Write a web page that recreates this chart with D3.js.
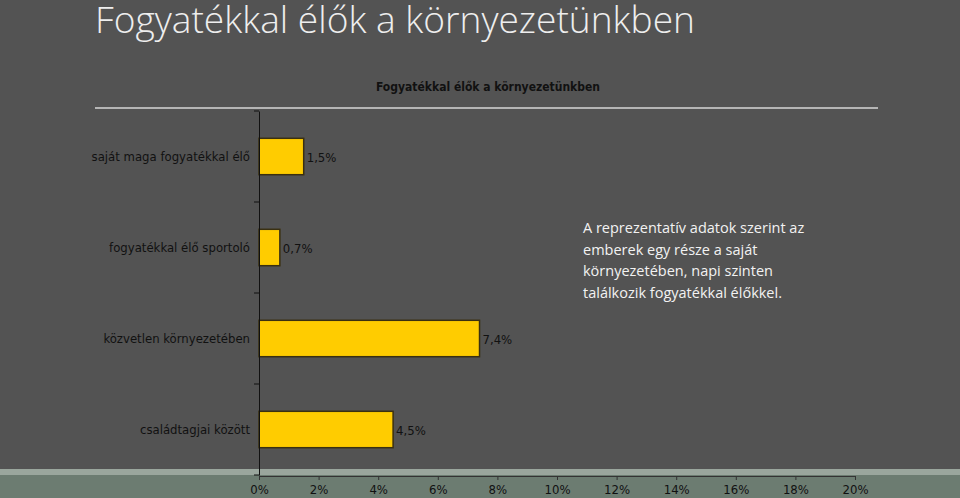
<!DOCTYPE html><html><head><meta charset="utf-8"><script src="https://cdn.jsdelivr.net/npm/d3@7"></script>
<style>body{margin:0;background:#535353}</style></head><body><svg id="c" width="960" height="498"></svg>
<script>
const categories=["saját maga fogyatékkal élő","fogyatékkal élő sportoló","közvetlen környezetében","családtagjai között"];
const values=[1.5,0.7,7.4,4.5];
const valueLabels=["1,5%","0,7%","7,4%","4,5%"];
const ticks=[0,2,4,6,8,10,12,14,16,18,20];
const note=["A reprezentatív adatok szerint az","emberek egy része a saját","környezetében, napi szinten","találkozik fogyatékkal élőkkel."];
const svg=d3.select("#c");
const F="DejaVu Sans Condensed, DejaVu Sans";
svg.append("rect").attr("width",960).attr("height",498).attr("fill","#535353");
svg.append("rect").attr("y",470).attr("width",960).attr("height",28).attr("fill","#6c7c71");
svg.append("rect").attr("y",469).attr("width",960).attr("height",6).attr("fill","#9aa69d");
svg.append("text").attr("x",95).attr("y",33).attr("fill","#eeeeee").attr("font-family","Open Sans").attr("font-weight",300).attr("font-size",36).attr("textLength",600).attr("lengthAdjust","spacingAndGlyphs").text("Fogyatékkal élők a környezetünkben");
svg.append("text").attr("x",488).attr("y",91).attr("text-anchor","middle").attr("font-family",F).attr("font-weight","bold").attr("font-size",12).attr("fill","#111").text("Fogyatékkal élők a környezetünkben");
svg.append("line").attr("x1",95).attr("x2",878).attr("y1",108).attr("y2",108).attr("stroke","#b5b5b5").attr("stroke-width",2);
const x=d3.scaleLinear().domain([0,20]).range([259,855]);
const y=d3.scaleBand().domain(categories).range([111,475]).paddingInner(0.6).paddingOuter(0.3);
const yb=d3.scaleBand().domain(categories).range([111,475]);
svg.selectAll(".bar").data(values).join("rect").attr("x",x(0)).attr("y",(d,i)=>y(categories[i])).attr("width",d=>x(d)-x(0)).attr("height",y.bandwidth()).attr("fill","#ffcc00").attr("stroke","#3a3010").attr("stroke-width",1.5);
svg.selectAll(".vl").data(values).join("text").attr("x",d=>x(d)+3).attr("y",(d,i)=>yb(categories[i])+yb.bandwidth()/2+5).attr("font-family",F).attr("font-size",13).attr("fill","#111").text((d,i)=>valueLabels[i]);
const ya=svg.append("g").attr("transform","translate(259,0)").call(d3.axisLeft(yb).tickSize(0).tickPadding(9));
ya.select(".domain").attr("stroke","#111");
ya.selectAll("text").attr("font-family",F).attr("font-size",13).attr("fill","#111");
svg.selectAll(".yt").data(d3.range(5)).join("line").attr("x1",254).attr("x2",259).attr("y1",i=>111+i*yb.step()).attr("y2",i=>111+i*yb.step()).attr("stroke","#111");
const xa=svg.append("g").attr("transform","translate(0,476)").call(d3.axisBottom(x).tickValues(ticks).tickSize(4).tickFormat(d=>d+"%").tickPadding(5));
xa.select(".domain").attr("stroke","#333");
xa.selectAll("line").attr("stroke","#333");
xa.selectAll("text").attr("font-family",F).attr("font-size",13).attr("fill","#111");
svg.append("g").selectAll("text").data(note).join("text").attr("x",583).attr("y",(d,i)=>233+i*21.5).attr("fill","#f2f2f2").attr("font-family","Open Sans").attr("font-size",14.5).text(d=>d);
</script></body></html>
